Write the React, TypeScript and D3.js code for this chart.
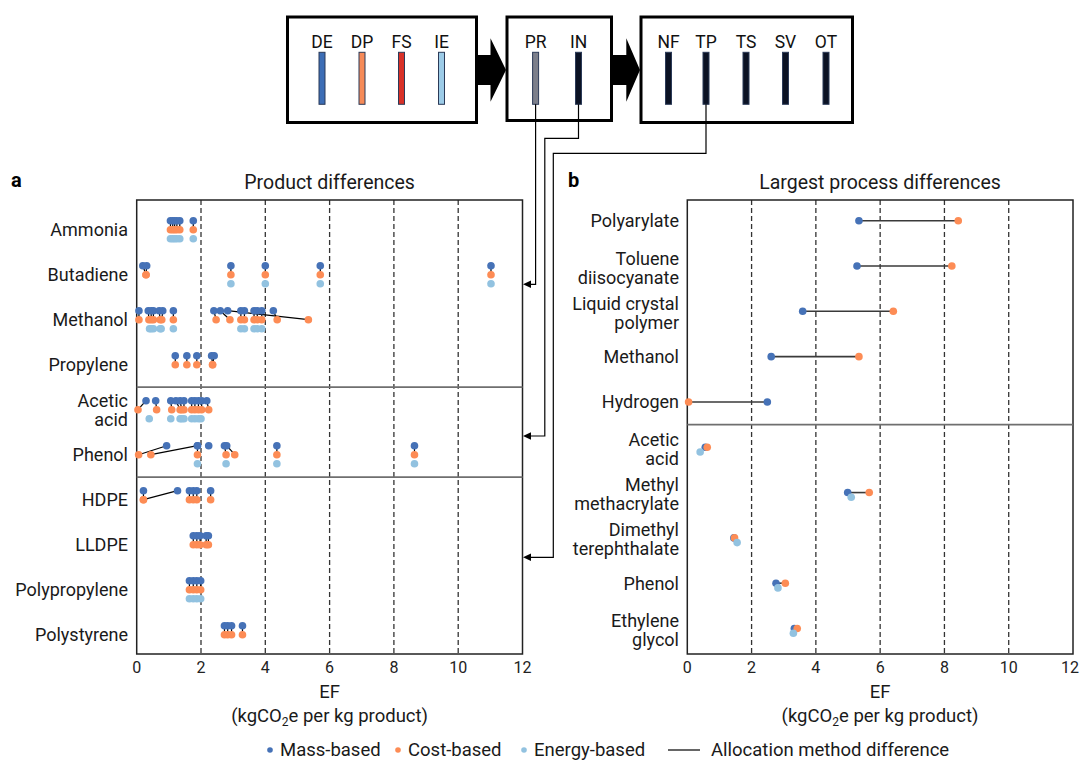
import React from "react";
import * as d3 from "d3";

// ---------- Panel a data ----------
const productRows = ["Ammonia", "Butadiene", "Methanol", "Propylene", "Acetic\nacid", "Phenol", "HDPE", "LLDPE", "Polypropylene", "Polystyrene"];

const ammoniaMass = [1.05, 1.12, 1.18, 1.25, 1.34, 1.76];
const ammoniaCost = [1.05, 1.12, 1.18, 1.25, 1.34, 1.76];
const ammoniaEnergy = [1.05, 1.12, 1.18, 1.25, 1.34, 1.76];

const butadieneMass = [0.19, 0.31, 2.93, 4.0, 5.71, 11.02];
const butadieneCost = [0.29, 0.29, 2.93, 4.0, 5.71, 11.02];
const butadieneEnergy = [null, null, 2.93, 4.0, 5.71, 11.02];

const methanolMass = [0.07, 0.36, 0.45, 0.52, 0.7, 0.81, 1.14, 2.4, 2.6, 2.83, 3.24, 3.35, 3.65, 3.75, 3.89, 4.25];
const methanolCost = [0.07, 0.38, 0.45, 0.52, 0.73, 0.78, 1.14, 2.47, 2.9, 5.34, 3.24, 3.35, 3.65, 3.75, 3.89, 4.37];
const methanolEnergy = [null, 0.4, 0.45, 0.52, 0.73, 0.76, 1.14, null, null, null, 3.24, 3.35, 3.65, 3.75, 3.89, null];

const propyleneMass = [1.2, 1.56, 1.87, 2.33, 2.41];
const propyleneCost = [1.2, 1.56, 1.87, 2.36, 2.36];
const propyleneEnergy = [null, null, null, null, null];

const aceticMass = [0.29, 0.59, 1.06, 1.22, 1.35, 1.47, 1.71, 1.81, 1.92, 2.02, 2.18];
const aceticCost = [0.04, 0.62, 1.09, 1.35, 1.4, 1.47, 1.71, 1.81, 1.92, 2.02, 2.24];
const aceticEnergy = [0.39, null, 1.06, 1.35, 1.4, 1.47, 1.71, 1.81, 1.92, 2.0, null];

const phenolMass = [0.93, 1.89, 1.89, 2.24, 2.73, 2.8, 4.36, 8.64];
const phenolCost = [0.06, 0.44, 1.89, null, 2.78, 3.05, 4.36, 8.64];
const phenolEnergy = [null, null, 1.89, null, 2.78, null, 4.36, 8.64];

const hdpeMass = [0.21, 1.27, 1.64, 1.76, 1.87, 2.3];
const hdpeCost = [0.21, 0.21, 1.64, 1.76, 1.87, 2.3];
const hdpeEnergy = [null, null, null, null, null, null];

const lldpeMass = [1.76, 1.87, 1.97, 2.16, 2.23];
const lldpeCost = [1.76, 1.87, 1.97, 2.16, 2.23];
const lldpeEnergy = [null, null, null, null, null];

const ppMass = [1.64, 1.76, 1.87, 1.99];
const ppCost = [1.64, 1.76, 1.87, 1.99];
const ppEnergy = [1.64, 1.76, 1.87, 1.99];

const psMass = [2.73, 2.83, 2.95, 3.29];
const psCost = [2.73, 2.83, 2.95, 3.29];
const psEnergy = [null, null, null, null];

const productMass = [ammoniaMass, butadieneMass, methanolMass, propyleneMass, aceticMass, phenolMass, hdpeMass, lldpeMass, ppMass, psMass];
const productCost = [ammoniaCost, butadieneCost, methanolCost, propyleneCost, aceticCost, phenolCost, hdpeCost, lldpeCost, ppCost, psCost];
const productEnergy = [ammoniaEnergy, butadieneEnergy, methanolEnergy, propyleneEnergy, aceticEnergy, phenolEnergy, hdpeEnergy, lldpeEnergy, ppEnergy, psEnergy];

// ---------- Panel b data ----------
const processRows = ["Polyarylate", "Toluene\ndiisocyanate", "Liquid crystal\npolymer", "Methanol", "Hydrogen", "Acetic\nacid", "Methyl\nmethacrylate", "Dimethyl\nterephthalate", "Phenol", "Ethylene\nglycol"];
const processMass = [5.34, 5.28, 3.59, 2.61, 2.49, 0.56, 4.99, 1.45, 2.76, 3.33];
const processCost = [8.43, 8.23, 6.41, 5.34, 0.04, 0.62, 5.66, 1.47, 3.05, 3.42];
const processEnergy = [null, null, null, null, null, 0.4, 5.1, 1.55, 2.82, 3.3];

const xTicks = [0, 2, 4, 6, 8, 10, 12];

// ---------- Diagram ----------
const stage1 = ["DE", "DP", "FS", "IE"];
const stage1Colors = ["#3c6db5", "#f58a58", "#d83128", "#9ccbe7"];
const stage2 = ["PR", "IN"];
const stage2Colors = ["#7c7f8b", "#0b1224"];
const stage3 = ["NF", "TP", "TS", "SV", "OT"];

const C_MASS = "#4672b7";
const C_COST = "#fd8c55";
const C_ENERGY = "#92c2e0";
const FONT = "Roboto, 'Noto Sans', sans-serif";

function Label({ x, y, text, anchor = "end", size = 18, dy2 = [-8, 9] }: any) {
  const lines = text.split("\n");
  if (lines.length === 1) {
    return (
      <text x={x} y={y} textAnchor={anchor} dominantBaseline="central" fontSize={size} fontFamily={FONT} fill="#1a1a1a">
        {text}
      </text>
    );
  }
  return (
    <text textAnchor={anchor} fontSize={size} fontFamily={FONT} fill="#1a1a1a">
      {lines.map((l: string, i: number) => (
        <tspan key={i} x={x} y={y + dy2[i]} dominantBaseline="central">
          {l}
        </tspan>
      ))}
    </text>
  );
}

function AxisTitle({ cx }: { cx: number }) {
  return (
    <g fontFamily={FONT} fontSize={18.5} fill="#1a1a1a" textAnchor="middle">
      <text x={cx} y={698}>EF</text>
      <text x={cx} y={722}>
        (kgCO<tspan fontSize={12} dy={4}>2</tspan>
        <tspan dy={-4}>e per kg product)</tspan>
      </text>
    </g>
  );
}

function Frame({ x0, x1, y0, y1, xs }: any) {
  return (
    <g>
      {xTicks.slice(1, -1).map((t) => (
        <line key={t} x1={xs(t)} x2={xs(t)} y1={y0} y2={y1} stroke="#333" strokeWidth={1.3} strokeDasharray="5,3" />
      ))}
      <rect x={x0} y={y0} width={x1 - x0} height={y1 - y0} fill="none" stroke="#222" strokeWidth={1.5} />
      {xTicks.map((t) => {
        const px = xs(t);
        const clip = px + 9 > 1079;
        return (
          <text key={t} x={clip ? 1079 : px} y={673} textAnchor={clip ? "end" : "middle"} fontSize={16} fontFamily={FONT} fill="#222">
            {t}
          </text>
        );
      })}
    </g>
  );
}

export default function App() {
  const xA = d3.scaleLinear().domain([0, 12]).range([136.7, 522.5]);
  const yA = d3.scalePoint<string>().domain(productRows).range([229.7, 634.7]);
  const xB = d3.scaleLinear().domain([0, 12]).range([687.3, 1073]);
  const yB = d3.scalePoint<string>().domain(processRows).range([220.7, 628.5]);
  const R = 3.8;
  const off = 9;

  // panel a marks
  const aLines: any[] = [];
  const aMass: any[] = [];
  const aCost: any[] = [];
  const aEnergy: any[] = [];
  productRows.forEach((row, ri) => {
    const yc = yA(row)!;
    productMass[ri].forEach((m, pi) => {
      const c = productCost[ri][pi];
      const e = productEnergy[ri][pi];
      if (c != null) aLines.push({ x1: xA(m), y1: yc - off, x2: xA(c), y2: yc, k: `${ri}-${pi}` });
      aMass.push({ x: xA(m), y: yc - off, k: `${ri}-${pi}` });
      if (c != null) aCost.push({ x: xA(c), y: yc, k: `${ri}-${pi}` });
      if (e != null) aEnergy.push({ x: xA(e), y: yc + off, k: `${ri}-${pi}` });
    });
  });

  const sepA1 = (yA(productRows[3])! + yA(productRows[4])!) / 2;
  const sepA2 = (yA(productRows[5])! + yA(productRows[6])!) / 2;
  const sepB = (yB(processRows[4])! + yB(processRows[5])!) / 2;

  // diagram geometry
  const stage1X = [322, 362, 401.5, 441.5];
  const stage2X = [535.6, 578.5];
  const stage3X = [668.5, 706, 746, 785.5, 826];
  const barTop = 52.3, barBot = 104.3, barW = 6;

  const arrow = (x0: number, xh: number, xt: number) =>
    `M${x0},55 L${xh},55 L${xh},38.3 L${xt},70 L${xh},101.7 L${xh},85 L${x0},85 Z`;
  const head = (y: number) => `M523,${y} L531,${y - 3.8} L531,${y + 3.8} Z`;

  const yPR = yA("Butadiene")! + 9.6;
  const yIN = yA("Phenol")! - 18.7;
  const yTP = yA("LLDPE")! + 12.6;

  return (
    <svg width={1080} height={760} style={{ position: "absolute", left: 0, top: 0, background: "#fff" }}>
      {/* ---- top diagram ---- */}
      <rect x={287.5} y={17} width={189} height={105.5} fill="#fff" stroke="#000" strokeWidth={3} />
      <rect x={507} y={17} width={104.5} height={103.5} fill="#fff" stroke="#000" strokeWidth={3} />
      <rect x={641} y={17} width={211.5} height={105.5} fill="#fff" stroke="#000" strokeWidth={3} />
      <path d={arrow(478, 490.5, 506)} fill="#000" />
      <path d={arrow(613, 626.3, 640)} fill="#000" />
      {stage1.map((s, i) => (
        <g key={s}>
          <text x={stage1X[i]} y={42} textAnchor="middle" dominantBaseline="central" fontSize={17.5} fontFamily={FONT} fill="#111">{s}</text>
          <rect x={stage1X[i] - barW / 2} y={barTop} width={barW} height={barBot - barTop} fill={stage1Colors[i]} stroke="#2b3a58" strokeWidth={1} />
        </g>
      ))}
      {stage2.map((s, i) => (
        <g key={s}>
          <text x={stage2X[i]} y={42} textAnchor="middle" dominantBaseline="central" fontSize={17.5} fontFamily={FONT} fill="#111">{s}</text>
          <rect x={stage2X[i] - barW / 2} y={barTop} width={barW} height={barBot - barTop} fill={stage2Colors[i]} stroke="#2b3a58" strokeWidth={1} />
        </g>
      ))}
      {stage3.map((s, i) => (
        <g key={s}>
          <text x={stage3X[i]} y={42} textAnchor="middle" dominantBaseline="central" fontSize={17.5} fontFamily={FONT} fill="#111">{s}</text>
          <rect x={stage3X[i] - barW / 2} y={barTop} width={barW} height={barBot - barTop} fill="#0b1224" stroke="#2b3a58" strokeWidth={1} />
        </g>
      ))}
      {/* connectors */}
      <g fill="none" stroke="#000" strokeWidth={1.2}>
        <path d={`M${stage2X[0]},${barBot} V${yPR} H530`} />
        <path d={`M${stage2X[1]},${barBot} V138.3 H544.8 V${yIN} H530`} />
        <path d={`M${stage3X[1]},${barBot} V153.3 H553.3 V${yTP} H530`} />
      </g>
      <path d={head(yPR)} fill="#000" />
      <path d={head(yIN)} fill="#000" />
      <path d={head(yTP)} fill="#000" />

      {/* ---- panel a ---- */}
      <text x={11} y={187} fontSize={20} fontWeight="bold" fontFamily={FONT} fill="#000">a</text>
      <text x={329.6} y={189} textAnchor="middle" fontSize={19.5} fontFamily={FONT} fill="#1a1a1a">Product differences</text>
      <Frame x0={136.7} x1={522.5} y0={200} y1={654} xs={xA} />
      <line x1={136.7} x2={522.5} y1={sepA1} y2={sepA1} stroke="#6f6f6f" strokeWidth={1.8} />
      <line x1={136.7} x2={522.5} y1={sepA2} y2={sepA2} stroke="#6f6f6f" strokeWidth={1.8} />
      {productRows.map((r) => (
        <Label key={r} x={128} y={yA(r)!} text={r} dy2={[-9, 10]} />
      ))}
      <g stroke="#000" strokeWidth={1.2}>
        {aLines.map((l) => (
          <line key={l.k} x1={l.x1} y1={l.y1} x2={l.x2} y2={l.y2} />
        ))}
      </g>
      {aMass.map((d) => (
        <circle key={"m" + d.k} cx={d.x} cy={d.y} r={R} fill={C_MASS} />
      ))}
      {aCost.map((d) => (
        <circle key={"c" + d.k} cx={d.x} cy={d.y} r={R} fill={C_COST} />
      ))}
      {aEnergy.map((d) => (
        <circle key={"e" + d.k} cx={d.x} cy={d.y} r={R} fill={C_ENERGY} />
      ))}
      <AxisTitle cx={329.6} />

      {/* ---- panel b ---- */}
      <text x={568} y={187} fontSize={20} fontWeight="bold" fontFamily={FONT} fill="#000">b</text>
      <text x={880} y={189} textAnchor="middle" fontSize={19.5} fontFamily={FONT} fill="#1a1a1a">Largest process differences</text>
      <Frame x0={687.3} x1={1073} y0={200} y1={654} xs={xB} />
      <line x1={687.3} x2={1073} y1={sepB} y2={sepB} stroke="#6f6f6f" strokeWidth={1.8} />
      {processRows.map((r) => (
        <Label key={r} x={679} y={yB(r)!} text={r} dy2={[-8, 11]} />
      ))}
      {processRows.map((r, i) => (
        <line key={"l" + r} x1={xB(processMass[i])} x2={xB(processCost[i])} y1={yB(r)!} y2={yB(r)!} stroke="#3a3a3a" strokeWidth={1.6} />
      ))}
      {processRows.map((r, i) => (
        <circle key={"m" + r} cx={xB(processMass[i])} cy={yB(r)!} r={R} fill={C_MASS} />
      ))}
      {processRows.map((r, i) => (
        <circle key={"c" + r} cx={xB(processCost[i])} cy={yB(r)!} r={R} fill={C_COST} />
      ))}
      {processRows.map((r, i) =>
        processEnergy[i] != null ? (
          <circle key={"e" + r} cx={xB(processEnergy[i] as number)} cy={yB(r)! + 4.7} r={R} fill={C_ENERGY} />
        ) : null
      )}
      <AxisTitle cx={880} />

      {/* ---- legend ---- */}
      <g fontFamily={FONT} fontSize={18.5} fill="#1a1a1a">
        <circle cx={270} cy={750} r={2.8} fill={C_MASS} />
        <text x={280} y={750} dominantBaseline="central">Mass-based</text>
        <circle cx={398} cy={750} r={2.8} fill={C_COST} />
        <text x={408} y={750} dominantBaseline="central">Cost-based</text>
        <circle cx={524} cy={750} r={2.8} fill={C_ENERGY} />
        <text x={534} y={750} dominantBaseline="central">Energy-based</text>
        <line x1={668} x2={700} y1={750} y2={750} stroke="#555" strokeWidth={1.8} />
        <text x={711} y={750} dominantBaseline="central">Allocation method difference</text>
      </g>
    </svg>
  );
}
